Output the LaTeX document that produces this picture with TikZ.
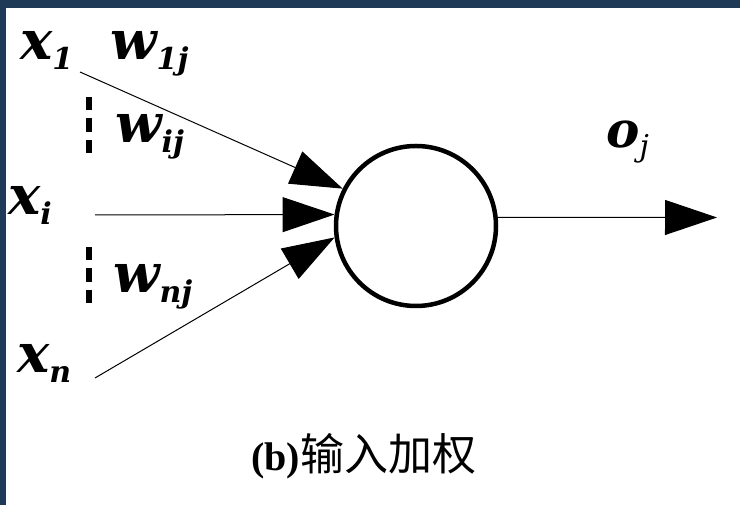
\documentclass[tikz,border=0pt]{standalone}
\usepackage{fontspec}
\setmainfont{Liberation Serif}
\newfontfamily\symf{DejaVu Serif}
\newfontfamily\cjk{Noto Sans CJK SC}
\newfontfamily\capf{Liberation Serif}
\usetikzlibrary{arrows.meta}
\definecolor{navy}{HTML}{1F3A56}
\newcommand{\bigsym}{\symf\fontsize{54}{54}\selectfont\bfseries\itshape}
\newcommand{\subsym}[1]{\raisebox{-10pt}{\fontsize{30}{30}\selectfont #1}}
\begin{document}
\begin{tikzpicture}[x=1pt,y=1pt,
  lab/.style={anchor=base west,inner sep=0pt,font=\bigsym},
  wire/.style={line width=1pt,-{Triangle[length=52pt,width=35pt]}},
  dots/.style={line width=6.5pt,dash pattern=on 13.5pt off 8pt},
  neuron/.style={circle,draw,line width=4.5pt,minimum size=160pt,inner sep=0pt,fill=white}]
\useasboundingbox (0,0) rectangle (740,505);
\fill[navy] (0,0) rectangle (740,505);
\fill[white] (6,0) rectangle (740,497);
% labels
\node[lab] (x1) at (20,445) {x\subsym{1}};
\node[lab] (w1) at (110,445) {w\subsym{1j}};
\node[lab] (wi) at (115,362) {w\subsym{ij}};
\node[lab] (xi) at (8,290) {x\subsym{i}};
\node[lab] (wn) at (113,212) {w\subsym{nj}};
\node[lab] (xn) at (17,132) {x\subsym{n}};
\node[lab,font=\symf\fontsize{50}{50}\selectfont\bfseries\itshape] (oj) at (606,357) {o\raisebox{-9pt}{\fontsize{30}{30}\selectfont\mdseries j}};
% neuron
\node[neuron] (c) at (416,279) {};
% start points
\coordinate (a1) at (80,433);
\coordinate (ai) at (95,290);
\coordinate (an) at (95,127);
\coordinate (out) at (717,287.5);
\draw[wire] (a1) -- (c.153);
\draw[wire] (ai) -- (c.172);
\draw[wire] (an) -- (c.188);
\draw[wire] (c.6) -- (out);
% dashes
\coordinate (d1t) at (89,408);
\coordinate (d1b) at (89,352);
\coordinate (d2t) at (89,258);
\coordinate (d2b) at (89,200);
\draw[dots] (d1t) -- (d1b);
\draw[dots] (d2t) -- (d2b);
% caption
\node[anchor=base west,inner sep=0pt] (cap) at (251,34) {{\capf\bfseries\fontsize{40}{40}\selectfont (b)}{\cjk\fontsize{44}{44}\selectfont 输入加权}};
\end{tikzpicture}
\end{document}
